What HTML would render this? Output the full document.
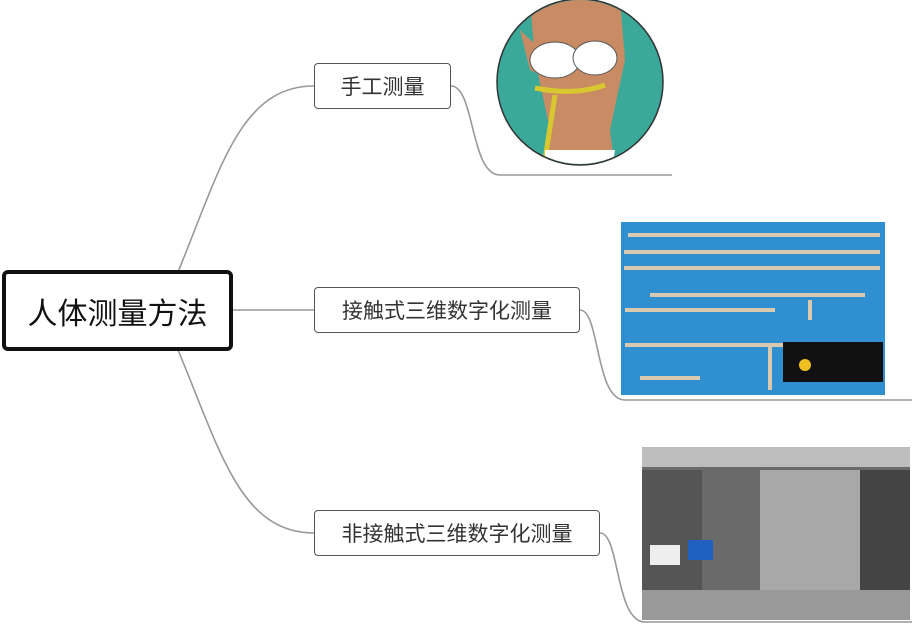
<!DOCTYPE html>
<html><head><meta charset="utf-8"><style>
body{margin:0;width:924px;height:626px;background:#fff;position:relative;overflow:hidden;font-family:"Liberation Sans","Noto Sans CJK SC",sans-serif}
.n{position:absolute;box-sizing:border-box;border:1.5px solid #555;border-radius:4px;background:#fff;color:#333;font-size:21px;display:flex;align-items:center;justify-content:center}
</style></head><body>
<svg width="924" height="626" style="position:absolute;left:0;top:0">
<g fill="none" stroke="#999" stroke-width="1.6">
<path d="M178,272 C220,170 240,86 314,86"/>
<path d="M233,310 L314,310"/>
<path d="M178,350 C220,450 240,533 314,533"/>
<path d="M451,86 C475,86 470,175 500,175 L672,175"/>
<path d="M580,310 C600,310 595,400 625,400 L912,400"/>
<path d="M600,533 C620,533 615,622 645,622 L912,622"/>
</g>
<defs><clipPath id="c"><circle cx="580" cy="82" r="82"/></clipPath></defs>
<circle cx="580" cy="82" r="83" fill="#3aa99a" stroke="#333" stroke-width="1.5"/>
<g clip-path="url(#c)">
<path d="M530,0 L620,0 L625,60 L610,130 L615,170 L545,170 L550,130 L535,60 Z" fill="#c98b63"/>
<path d="M520,30 Q580,90 625,50 L620,75 Q580,95 530,70 Z" fill="#c98b63"/>
<ellipse cx="555" cy="60" rx="25" ry="18" fill="#fff" stroke="#555"/>
<ellipse cx="595" cy="58" rx="22" ry="17" fill="#fff" stroke="#555"/>
<path d="M535,88 Q575,96 605,85" stroke="#d8c830" stroke-width="5" fill="none"/>
<path d="M555,95 L545,160" stroke="#d8c830" stroke-width="5"/>
<path d="M545,150 L615,150 L612,170 L545,170 Z" fill="#fff"/>
</g>
<rect x="621" y="222" width="264" height="173" fill="#2f8fd0"/>
<g stroke="#d9c9b0" stroke-width="4">
<line x1="628" y1="235" x2="880" y2="235"/><line x1="624" y1="252" x2="880" y2="252"/>
<line x1="624" y1="268" x2="880" y2="268"/><line x1="650" y1="295" x2="865" y2="295"/>
<line x1="625" y1="310" x2="775" y2="310"/><line x1="625" y1="345" x2="880" y2="345"/>
<line x1="640" y1="378" x2="700" y2="378"/>
<line x1="770" y1="345" x2="770" y2="390"/><line x1="810" y1="300" x2="810" y2="320"/>
</g>
<rect x="783" y="342" width="100" height="40" fill="#111"/>
<circle cx="805" cy="365" r="6" fill="#f0c020"/>
<rect x="642" y="447" width="268" height="173" fill="#6a6a6a"/>
<rect x="642" y="447" width="268" height="20" fill="#bdbdbd"/>
<rect x="760" y="470" width="100" height="120" fill="#a8a8a8"/>
<rect x="642" y="470" width="60" height="150" fill="#555"/>
<rect x="860" y="470" width="50" height="150" fill="#444"/>
<rect x="642" y="590" width="268" height="30" fill="#999"/>
<rect x="650" y="545" width="30" height="20" fill="#eee"/>
<rect x="688" y="540" width="25" height="20" fill="#2060c0"/>
</svg>
<div class="n" style="left:2px;top:270px;width:231px;height:81px;border:4px solid #111;border-radius:6px;font-size:30px;color:#111">人体测量方法</div>
<div class="n" style="left:314px;top:63px;width:137px;height:46px">手工测量</div>
<div class="n" style="left:314px;top:287px;width:266px;height:46px">接触式三维数字化测量</div>
<div class="n" style="left:314px;top:510px;width:286px;height:46px">非接触式三维数字化测量</div>
</body></html>
